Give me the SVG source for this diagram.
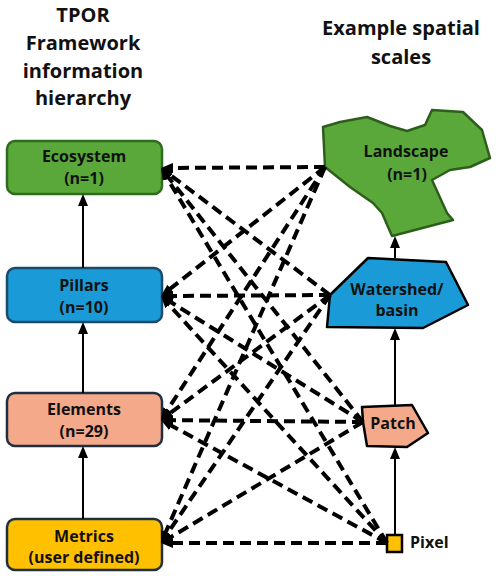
<svg xmlns="http://www.w3.org/2000/svg" width="498" height="576" viewBox="0 0 498 576">
<style>
.t{font-family:"Open Sans","Noto Sans",sans-serif;font-weight:bold;fill:#111;text-anchor:middle}
.title{font-size:20px}
.lbl{font-size:16px}
.box{stroke-width:2.5}
.dash{stroke:#000;stroke-width:4;stroke-dasharray:11 6;fill:none;marker-end:url(#ah)}
.solid{stroke:#000;stroke-width:2;fill:none;marker-end:url(#sh)}
</style>
<defs>
<marker id="ah" markerUnits="userSpaceOnUse" markerWidth="12" markerHeight="10" refX="5" refY="5" orient="auto">
<path d="M0,0 L12,5 L0,10 z" fill="#000"/>
</marker>
<marker id="sh" markerUnits="userSpaceOnUse" markerWidth="12" markerHeight="10" refX="4" refY="5" orient="auto">
<path d="M0,0 L12,5 L0,10 z" fill="#000"/>
</marker>
</defs>
<rect width="498" height="576" fill="#fff"/>
<g id="title-left">
<text class="t title" x="83" y="22">TPOR</text>
<text class="t title" x="83" y="50">Framework</text>
<text class="t title" x="83" y="78">information</text>
<text class="t title" x="83" y="105">hierarchy</text>
</g>
<g id="title-right">
<text class="t title" x="401" y="35">Example spatial</text>
<text class="t title" x="401" y="64">scales</text>
</g>
<g id="ecosystem">
<rect class="box" x="7" y="141" width="155" height="53" rx="8" fill="#5aa83a" stroke="#2e6b1e"/>
<text class="t lbl" x="84" y="162">Ecosystem</text>
<text class="t lbl" x="84" y="184">(n=1)</text>
</g>
<g id="pillars">
<rect class="box" x="7" y="268" width="155" height="54" rx="8" fill="#1a9bd7" stroke="#1b4a6b"/>
<text class="t lbl" x="84" y="291">Pillars</text>
<text class="t lbl" x="84" y="313">(n=10)</text>
</g>
<g id="elements">
<rect class="box" x="7" y="393" width="155" height="53" rx="8" fill="#f4a98a" stroke="#1e3040"/>
<text class="t lbl" x="84" y="415">Elements</text>
<text class="t lbl" x="84" y="437">(n=29)</text>
</g>
<g id="metrics">
<rect class="box" x="7" y="519" width="155" height="51" rx="8" fill="#ffc000" stroke="#1e3040"/>
<text class="t lbl" x="84" y="542">Metrics</text>
<text class="t lbl" x="84" y="563">(user defined)</text>
</g>
<g id="landscape">
<polygon points="323,127 340,122 367,117 390,126 407,131 425,125 432,110 463,112 482,130 490,158 470,167 450,170 432,180 447,213 453,220 392,236 382,213 373,203 350,187 325,167" fill="#5aa83a" stroke="#2e5e1c" stroke-width="2.5" stroke-linejoin="round"/>
<text class="t lbl" x="406" y="157">Landscape</text>
<text class="t lbl" x="407" y="180">(n=1)</text>
</g>
<g id="watershed">
<polygon points="330,295 368,258 446,262 468,305 423,328 327,327" fill="#1a9bd7" stroke="#000" stroke-width="2.5" stroke-linejoin="round"/>
<text class="t lbl" x="397" y="295">Watershed/</text>
<text class="t lbl" x="397" y="316">basin</text>
</g>
<g id="patch">
<polygon points="362,407 412,405 428,433 407,447 367,446 363,422" fill="#f4a98a" stroke="#000" stroke-width="2.5" stroke-linejoin="round"/>
<text class="t lbl" x="393" y="429">Patch</text>
</g>
<g id="pixel">
<rect x="387" y="535" width="15" height="17" fill="#ffc000" stroke="#000" stroke-width="2.5"/>
<text class="t lbl" x="410" y="548" style="text-anchor:start">Pixel</text>
</g>
<g id="connectors">
<line class="solid" x1="83" y1="268" x2="83" y2="202"/>
<line class="solid" x1="83" y1="393" x2="83" y2="330"/>
<line class="solid" x1="83" y1="519" x2="83" y2="454"/>
<line class="solid" x1="395" y1="258" x2="395" y2="244"/>
<line class="solid" x1="395" y1="405" x2="395" y2="336"/>
<line class="solid" x1="395" y1="535" x2="395" y2="455"/>
<line class="dash" x1="325" y1="167" x2="168" y2="168"/>
<line class="dash" x1="325" y1="167" x2="166.5" y2="291.7"/>
<line class="dash" x1="325" y1="167" x2="164.8" y2="414.1"/>
<line class="dash" x1="325" y1="167" x2="163.8" y2="536.6"/>
<line class="dash" x1="330" y1="295" x2="166.6" y2="172.2"/>
<line class="dash" x1="330" y1="295" x2="168" y2="296"/>
<line class="dash" x1="330" y1="295" x2="166.6" y2="415.8"/>
<line class="dash" x1="330" y1="295" x2="164.9" y2="537.2"/>
<line class="dash" x1="363" y1="422" x2="165.4" y2="173.5"/>
<line class="dash" x1="363" y1="422" x2="166.9" y2="299.7"/>
<line class="dash" x1="363" y1="422" x2="168" y2="420.1"/>
<line class="dash" x1="363" y1="422" x2="167" y2="539.4"/>
<line class="dash" x1="387" y1="543" x2="164.6" y2="174"/>
<line class="dash" x1="387" y1="543" x2="165.7" y2="301.2"/>
<line class="dash" x1="387" y1="543" x2="167.1" y2="423.3"/>
<line class="dash" x1="387" y1="543" x2="168" y2="543"/>
</g>
</svg>
